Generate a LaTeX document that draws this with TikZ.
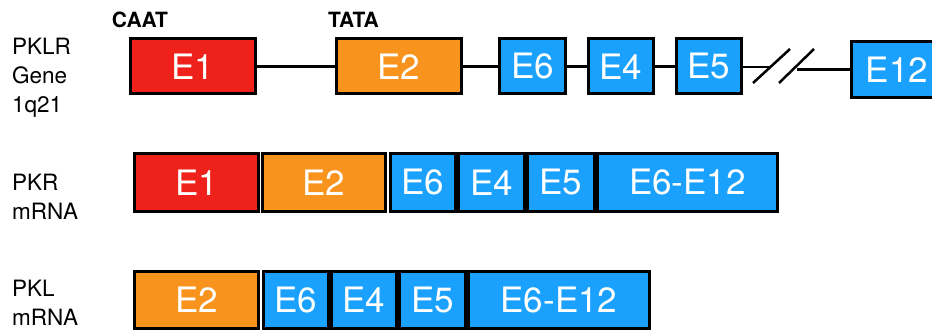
\documentclass[tikz,border=0pt]{standalone}
\usepackage{fontspec}
\setmainfont{TeX Gyre Heros}
\usetikzlibrary{shapes}
\definecolor{exred}{RGB}{238,34,26}
\definecolor{exorange}{RGB}{248,148,30}
\definecolor{exblue}{RGB}{26,161,253}

\begin{document}
\begin{tikzpicture}[x=1pt, y=-1pt,
        exon/.style={draw, line width=3pt, text=white, inner sep=0pt, font=\fontsize{35}{40}\selectfont},
        exr/.style={exon, fill=exred},
        exo/.style={exon, fill=exorange},
        exb/.style={exon, fill=exblue},
        gene/.style={minimum height=55pt},
        pkr/.style={minimum height=58pt},
        pkl/.style={minimum height=57pt},
        rowlabel/.style={anchor=west, align=left, inner sep=0pt, font=\fontsize{22.5}{29}\selectfont},
        box/.style={inner sep=0pt, font=\bfseries\fontsize{21}{24}\selectfont},
        intron/.style={line width=2.5pt}
    ]
            \useasboundingbox (0,0) rectangle (932,331);

            % gene
            \node[rowlabel] (t0) at (12, 78) {PKLR\\Gene\\1q21};
            \node[box] (caat) at (140, 19.5) {CAAT};
            \node[box] (tata) at (353.5, 19.5) {TATA};

            \node[exr, gene, minimum width=125pt] (g1) at (193, 66.5) {E1};
            \node[exo, gene, minimum width=125pt] (g2) at (399, 66.5) {E2};
            \node[exb, gene, minimum width=66pt] (g6) at (532.5, 66.5) {E6};
            \node[exb, gene, minimum width=65pt] (g4) at (621, 66.5) {E4};
            \node[exb, gene, minimum width=65pt] (g5) at (709, 66.5) {E5};
            \node[exb, minimum height=56pt, minimum width=91pt] (g12) at (897, 69.5) {E12};
            \coordinate (brk1) at (771, 67);
            \coordinate (brk2) at (797, 69.5);

            \draw[intron] (g1) -- (g2);
            \draw[intron] (g2) -- (g6);
            \draw[intron] (g6) -- (g4);
            \draw[intron] (g4) -- (g5);
            \draw[intron] (g5.east |- brk1) -- (brk1);
            \draw[intron] (brk2) -- (g12.west |- brk2);
            \draw[intron] (753, 83) -- (790, 49);
            \draw[intron] (779, 83) -- (814, 49);

            % PKR
            \node[rowlabel] (t1) at (12, 197) {PKR\\mRNA};
            \node[exr, pkr, minimum width=124pt] (r1) at (196.5, 182.5) {E1};
            \node[exo, pkr, minimum width=123pt] (r2) at (324, 182.5) {E2};
            \node[exb, pkr, minimum width=65pt] (r6) at (423, 182.5) {E6};
            \node[exb, pkr, minimum width=66pt] (r4) at (491.5, 182.5) {E4};
            \node[exb, pkr, minimum width=67pt] (r5) at (561, 182.5) {E5};
            \node[exb, pkr, minimum width=180pt] (r12) at (687.5, 182.5) {E6-E12};

            % PKL
            \node[rowlabel] (t2) at (12, 302.5) {PKL\\mRNA};
            \node[exo, pkl, minimum width=124pt] (l2) at (196.5, 300) {E2};
            \node[exb, pkl, minimum width=65pt] (l6) at (296, 300) {E6};
            \node[exb, pkl, minimum width=65pt] (l4) at (364, 300) {E4};
            \node[exb, pkl, minimum width=66pt] (l5) at (432.5, 300) {E5};
            \node[exb, pkl, minimum width=181pt] (l12) at (559, 300) {E6-E12};
\end{tikzpicture}
\end{document}
